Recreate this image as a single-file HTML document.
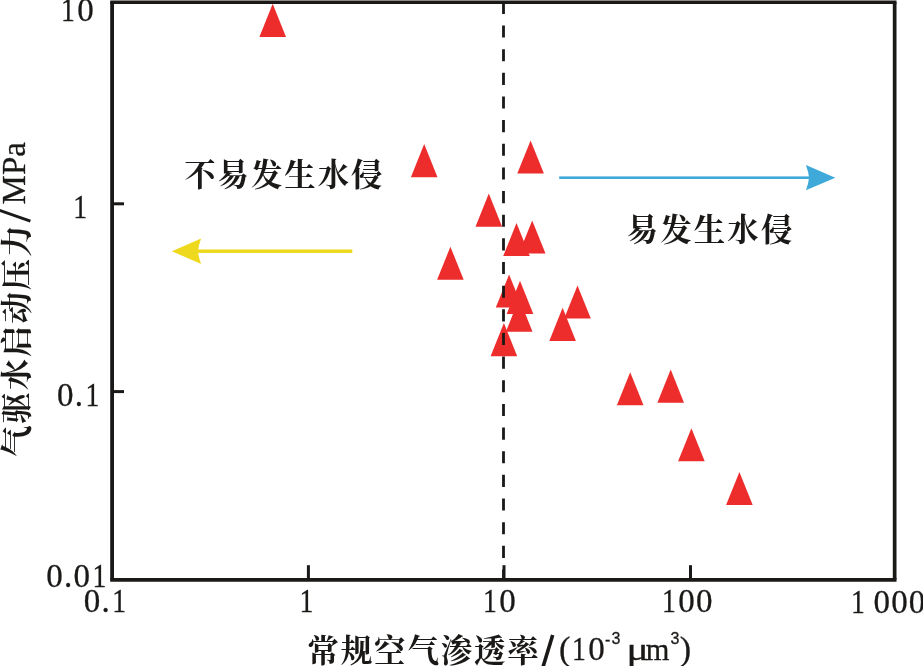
<!DOCTYPE html>
<html lang="zh">
<head>
<meta charset="utf-8">
<title>Chart</title>
<style>
html,body{margin:0;padding:0;background:#fff;}
body{width:923px;height:666px;overflow:hidden;font-family:"Liberation Serif",serif;}
svg{display:block;will-change:transform;}
</style>
</head>
<body>
<svg width="923" height="666" viewBox="0 0 923 666" role="img" aria-label="气驱水启动压力/MPa 与 常规空气渗透率/(10⁻³ μm³) 关系图">
<rect width="923" height="666" fill="#fff"/>
<g fill="#ed2d2c">
<path d="M259.4 36.9L272.7 3.8L286.0 36.9Z"/>
<path d="M410.9 177.2L424.2 144.1L437.5 177.2Z"/>
<path d="M517.3 173.5L530.6 140.4L543.9 173.5Z"/>
<path d="M475.5 226.7L488.8 193.6L502.1 226.7Z"/>
<path d="M437.1 279.8L450.4 246.7L463.7 279.8Z"/>
<path d="M503.2 256.1L516.5 223.0L529.8 256.1Z"/>
<path d="M518.9 253.6L532.2 220.5L545.5 253.6Z"/>
<path d="M495.8 307.5L509.1 274.4L522.4 307.5Z"/>
<path d="M506.7 313.9L520.0 280.8L533.3 313.9Z"/>
<path d="M505.9 331.7L519.2 298.6L532.5 331.7Z"/>
<path d="M490.6 356.2L503.9 323.1L517.2 356.2Z"/>
<path d="M564.2 318.6L577.5 285.5L590.8 318.6Z"/>
<path d="M549.3 340.9L562.6 307.8L575.9 340.9Z"/>
<path d="M616.9 405.3L630.2 372.2L643.5 405.3Z"/>
<path d="M657.4 402.7L670.7 369.6L684.0 402.7Z"/>
<path d="M678.1 461.3L691.4 428.2L704.7 461.3Z"/>
<path d="M726.1 505.1L739.4 472.0L752.7 505.1Z"/>
</g>
<g fill="none" stroke="#1b1917" stroke-linecap="butt">
<path d="M110.20 2.25H896.50" stroke-width="3.50"/>
<path d="M110.20 579.85H896.50" stroke-width="3.70"/>
<path d="M112.10 2.25V579.85" stroke-width="3.80"/>
<path d="M894.65 2.25V579.85" stroke-width="3.70"/>
<path d="M308.40 579.85V565.20" stroke-width="3.00"/>
<path d="M504.00 579.85V565.20" stroke-width="3.00"/>
<path d="M690.50 579.85V565.20" stroke-width="3.00"/>
<path d="M112.10 203.80H124.00" stroke-width="3.00"/>
<path d="M112.10 391.60H124.00" stroke-width="3.00"/>
<path d="M503.50 1.85V579.85" stroke-width="2.80" stroke-dasharray="12.1 11.55"/>
</g>
<g fill="#efd91f" stroke="none"><rect x="196.9" y="249.45" width="155.4" height="3.5"/><path d="M171.8 251.2L201.1 238.45Q198.5 245.46249999999998 197.9 251.2Q198.5 256.9375 201.1 263.95Z"/></g>
<g fill="#3fa9d9" stroke="none"><rect x="559.2" y="176.39999999999998" width="250.89999999999998" height="2.6"/><path d="M835.3 177.7L805.9 165.1Q808.5 172.03 809.1 177.7Q808.5 183.36999999999998 805.9 190.29999999999998Z"/></g>
<g fill="#1b1917" stroke="#1b1917" stroke-width="0.30">
<text transform="translate(59.70 21.00) scale(1.0000 1)" font-family="'Liberation Serif', serif" font-size="33.00" letter-spacing="1.180"><tspan dx="1.41" textLength="14.85" lengthAdjust="spacingAndGlyphs">1</tspan><tspan dx="1.41">0</tspan></text>
<text transform="translate(71.75 218.20) scale(1.0000 1)" font-family="'Liberation Serif', serif" font-size="33.00" letter-spacing="1.180"><tspan dx="1.41" textLength="14.85" lengthAdjust="spacingAndGlyphs">1</tspan></text>
<text transform="translate(57.00 405.90) scale(1.0000 1)" font-family="'Liberation Serif', serif" font-size="33.00" letter-spacing="1.180">0.<tspan dx="1.41" textLength="14.85" lengthAdjust="spacingAndGlyphs">1</tspan></text>
<text transform="translate(46.30 586.90) scale(1.0000 1)" font-family="'Liberation Serif', serif" font-size="33.00" letter-spacing="1.180">0.0<tspan dx="1.41" textLength="14.85" lengthAdjust="spacingAndGlyphs">1</tspan></text>
<text transform="translate(83.80 612.30) scale(1.0000 1)" font-family="'Liberation Serif', serif" font-size="33.00" letter-spacing="1.180">0.<tspan dx="1.41" textLength="14.85" lengthAdjust="spacingAndGlyphs">1</tspan></text>
<text transform="translate(298.20 612.30) scale(1.0000 1)" font-family="'Liberation Serif', serif" font-size="33.00" letter-spacing="1.180"><tspan dx="1.41" textLength="14.85" lengthAdjust="spacingAndGlyphs">1</tspan></text>
<text transform="translate(481.50 612.30) scale(1.0000 1)" font-family="'Liberation Serif', serif" font-size="33.00" letter-spacing="1.180"><tspan dx="1.41" textLength="14.85" lengthAdjust="spacingAndGlyphs">1</tspan><tspan dx="1.41">0</tspan></text>
<text transform="translate(660.60 612.30) scale(1.0000 1)" font-family="'Liberation Serif', serif" font-size="33.00" letter-spacing="1.180"><tspan dx="1.41" textLength="14.85" lengthAdjust="spacingAndGlyphs">1</tspan><tspan dx="1.41">0</tspan>0</text>
<text transform="translate(849.60 612.60) scale(1.0000 1)" font-family="'Liberation Serif', serif" font-size="33.00" letter-spacing="1.180"><tspan dx="1.41" textLength="14.85" lengthAdjust="spacingAndGlyphs">1</tspan></text>
<text transform="translate(873.45 612.60) scale(1.0000 1)" font-family="'Liberation Serif', serif" font-size="33.00" letter-spacing="1.180">000</text>
<text transform="translate(558.90 659.50) scale(1.0350 1)" font-family="'Liberation Serif', serif" font-size="33.00" letter-spacing="1.140">(</text>
<text transform="translate(570.60 659.50) scale(1.0000 1)" font-family="'Liberation Serif', serif" font-size="33.00" letter-spacing="1.180"><tspan dx="1.41" textLength="14.85" lengthAdjust="spacingAndGlyphs">1</tspan><tspan dx="1.41">0</tspan></text>
<text transform="translate(605.10 644.60) scale(1.0000 1)" font-family="'Liberation Sans', sans-serif" font-size="16.00">-</text>
<text transform="translate(611.60 643.90) scale(1.0000 1)" font-family="'Liberation Sans', sans-serif" font-size="16.00">3</text>
<text transform="translate(626.50 659.50) scale(1.3000 1)" font-family="'Liberation Serif', serif" font-size="32.00" letter-spacing="0.908">μ</text>
<text transform="translate(645.80 659.50) scale(0.9500 1)" font-family="'Liberation Serif', serif" font-size="32.00" letter-spacing="1.242">m</text>
<text transform="translate(670.40 643.90) scale(1.0000 1)" font-family="'Liberation Sans', sans-serif" font-size="16.00">3</text>
<text transform="translate(679.70 659.50) scale(1.0350 1)" font-family="'Liberation Serif', serif" font-size="33.00" letter-spacing="1.140">)</text>
<text transform="translate(24.90 204.45) rotate(-90) scale(1.0000 1)" font-family="'Liberation Serif', serif" font-size="33.00">MPa</text>
</g>
<g stroke="#1b1917" fill="none">
<path d="M543.00 667.00L552.70 634.90" stroke-width="3.60"/>
<path d="M-1.00 210.10L30.40 221.20" stroke-width="2.90"/>
</g>
<g fill="#1b1917" stroke="none" font-family="'Liberation Serif', 'Noto Serif CJK SC', serif" font-size="31.4" font-weight="bold">
<text x="184.2 217.56 250.92 284.28 317.64 351.0" y="185.5">不易发生水侵</text>
<text x="626.7 660.25 693.8 727.35 760.9" y="240.8">易发生水侵</text>
<text x="307.5 340.8 374.1 407.4 440.7 474.0 507.3" y="662.2">常规空气渗透率</text>
<text transform="translate(15.30 441.30) rotate(-90)" x="-15.7 17.67 51.04 84.41 117.78 151.15 184.52" y="12.35">气驱水启动压力</text>
</g>
</svg>
</body>
</html>
